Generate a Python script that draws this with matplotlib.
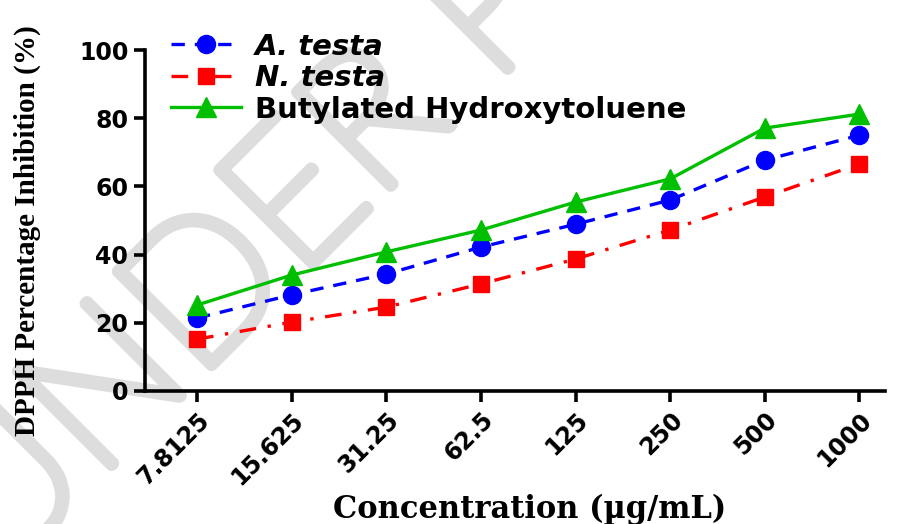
import matplotlib
matplotlib.use("Agg")
import matplotlib.pyplot as plt
import matplotlib.patheffects as pe

# concentrations (ug/mL) shown as categories
conc_labels = ["7.8125", "15.625", "31.25", "62.5", "125", "250", "500", "1000"]
a_testa = [21.4, 28.2, 34.3, 42.2, 48.9, 56.0, 67.7, 75.0]
n_testa = [15.2, 20.2, 24.6, 31.4, 38.7, 47.2, 56.9, 66.6]
bht = [25.2, 34.0, 40.8, 47.2, 55.4, 62.2, 77.1, 81.2]
y_ticks = [0, 20, 40, 60, 80, 100]

xpos = list(range(len(conc_labels)))

fig = plt.figure(figsize=(9.02, 5.24), dpi=100)
ax = fig.add_axes([145/902, 1-391/524, (885-145)/902, (391-50)/524])

# watermark behind everything (thin font + round stroke)
wm = fig.text(0.0, -0.10, "UNDER PEER REVIEW", fontsize=136, color="#dddddd",
              family="Lato", fontweight="light", rotation=45, rotation_mode="anchor",
              ha="left", va="baseline", zorder=-1)
wm.set_path_effects([pe.Stroke(linewidth=9, foreground="#dddddd",
                               capstyle="round", joinstyle="round"), pe.Normal()])
ax.set_facecolor("none")

lw = 2.4
ax.plot(xpos, a_testa, color="#0000ff", ls=(0, (4, 3)), lw=lw, marker="o",
        ms=13, label="A. testa", clip_on=False, zorder=3)
ax.plot(xpos, n_testa, color="#ff0000", ls=(0, (5, 3.5, 1, 3.5)), lw=lw, marker="s",
        ms=12, label="N. testa", clip_on=False, zorder=3)
ax.plot(xpos, bht, color="#00bf00", ls="-", lw=lw, marker="^",
        ms=14, label="Butylated Hydroxytoluene", clip_on=False, zorder=3)

ax.set_xlim(-0.55, 7.27)
ax.set_ylim(0, 100)
ax.set_yticks(y_ticks)
ax.set_xticks(xpos)
ax.set_xticklabels(conc_labels, rotation=45, ha="right", rotation_mode="anchor")

for s in ["top", "right"]:
    ax.spines[s].set_visible(False)
for s in ["left", "bottom"]:
    ax.spines[s].set_linewidth(2.6)
ax.tick_params(axis="both", width=2.6, length=8, direction="out", pad=4)
for lab in ax.get_xticklabels() + ax.get_yticklabels():
    lab.set_fontfamily("DejaVu Sans")
    lab.set_fontweight("bold")
    lab.set_fontsize(17)

ax.set_ylabel("DPPH Percentage Inhibition (%)", family="Liberation Serif",
              fontweight="bold", fontsize=21)
ax.yaxis.set_label_coords(-0.14, 0.47)
ax.set_xlabel("Concentration (\u00b5g/mL)", family="DejaVu Serif",
              fontweight="bold", fontsize=22)
ax.xaxis.set_label_coords(0.52, -0.30)

leg = ax.legend(loc="upper left", bbox_to_anchor=(0.02, 1.085), frameon=False,
                prop={"family": "DejaVu Sans", "weight": "bold", "size": 21},
                handlelength=2.4, handletextpad=0.45, labelspacing=0.12,
                borderaxespad=0)
for t in leg.get_texts()[:2]:
    t.set_fontstyle("italic")

fig.savefig("out.png", dpi=100)
